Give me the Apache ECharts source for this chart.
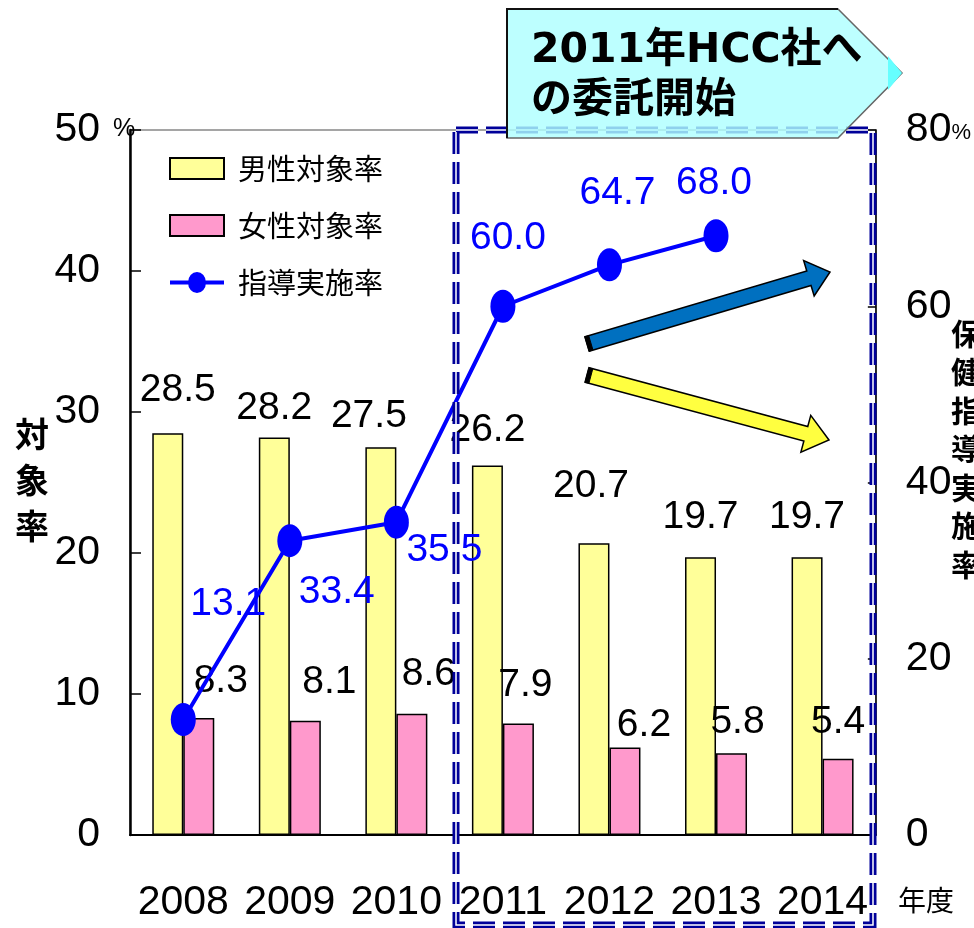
<!DOCTYPE html>
<html>
<head>
<meta charset="utf-8">
<script src="https://cdn.jsdelivr.net/npm/echarts/dist/echarts.min.js"></script>
<style>
html,body{margin:0;padding:0;background:#fff;}
#chart{width:974px;height:928px;}
</style>
</head>
<body>
<div id="chart"></div>
<script>
// ---- data ----
var years = ['2008', '2009', '2010', '2011', '2012', '2013', '2014'];
var maleRate = [28.5, 28.2, 27.5, 26.2, 20.7, 19.7, 19.7];
var femaleRate = [8.3, 8.1, 8.6, 7.9, 6.2, 5.8, 5.4];
var guidanceRate = [13.1, 33.4, 35.5, 60.0, 64.7, 68.0, null];
var leftTicks = [0, 10, 20, 30, 40, 50];
var rightTicks = [0, 20, 40, 60, 80];

// ---- label placement (style only) ----
var maleLabelOffsets = [[10, -22], [0, -8], [-12, -10], [0, -14], [-3, -36], [0, -19], [0, -19]];
var femaleLabelOffsets = [[22, -16], [24, -18], [17, -18], [7, -17], [19, -1], [6, -10], [0, -16]];
var lineLabelOffsets = [[45, -115], [47, 52], [48, 28], [5, -68], [8, -72], [-2, -53], [0, 0]];

var NUM_FONT = '"Liberation Sans Narrow","Liberation Sans",Arial,sans-serif';
var CJK_FONT = '"Noto Sans CJK JP","Noto Sans CJK SC",sans-serif';

function barData(vals, offs) {
  return vals.map(function (v, i) {
    return { value: v, label: { offset: offs[i] } };
  });
}
function lineData(vals, offs) {
  return vals.map(function (v, i) {
    return v == null ? '-' : { value: v, label: { offset: offs[i] } };
  });
}

function arrowPoints(tail, tip, shaft, headW, headL) {
  var dx = tip[0] - tail[0], dy = tip[1] - tail[1];
  var L = Math.sqrt(dx * dx + dy * dy);
  var ux = dx / L, uy = dy / L, nx = -uy, ny = ux;
  var bx = tip[0] - ux * headL, by = tip[1] - uy * headL;
  function p(x, y, k) { return [x + nx * k, y + ny * k]; }
  return {
    body: [p(tail[0], tail[1], shaft / 2), p(bx, by, shaft / 2), p(bx, by, headW / 2), tip,
           p(bx, by, -headW / 2), p(bx, by, -shaft / 2), p(tail[0], tail[1], -shaft / 2)],
    cap: [p(tail[0], tail[1], shaft / 2), p(tail[0] + ux * 4, tail[1] + uy * 4, shaft / 2),
          p(tail[0] + ux * 4, tail[1] + uy * 4, -shaft / 2), p(tail[0], tail[1], -shaft / 2)]
  };
}
var blueArrow = arrowPoints([587, 344], [830, 272], 15, 37, 22);
var yellowArrow = arrowPoints([587, 375], [829, 440], 15, 38, 24);

var chart = echarts.init(document.getElementById('chart'), null, { renderer: 'canvas' });

var lineIcon = 'path://M0,8.5H54V12.5H0Z M18,10.5A9,10.5 0 1,1 36,10.5A9,10.5 0 1,1 18,10.5Z';

var option = {
  backgroundColor: '#ffffff',
  animation: false,
  grid: { left: 130, right: 96, top: 130, bottom: 93, show: true, borderColor: '#888', borderWidth: 1.5, backgroundColor: 'transparent' },
  legend: {
    orient: 'vertical', left: 169, top: 154, padding: 0, itemGap: 28,
    itemWidth: 54, itemHeight: 21,
    textStyle: { fontFamily: CJK_FONT, fontSize: 29, color: '#000', padding: [0, 0, 0, 9] },
    data: [
      { name: '男性対象率', icon: 'rect' },
      { name: '女性対象率', icon: 'rect' },
      { name: '指導実施率', icon: lineIcon }
    ]
  },
  xAxis: {
    type: 'category', data: years,
    axisLine: { lineStyle: { color: '#000', width: 2 } },
    axisTick: { inside: true, length: 12, lineStyle: { color: '#000', width: 1.5 } },
    axisLabel: { interval: 0, fontFamily: NUM_FONT, fontSize: 41, color: '#000', margin: 47, lineHeight: 42 }
  },
  yAxis: [
    {
      type: 'value', min: leftTicks[0], max: leftTicks[leftTicks.length - 1], interval: 10,
      axisLine: { show: true, lineStyle: { color: '#000', width: 2.5 } },
      axisTick: { show: true, inside: true, length: 11, lineStyle: { color: '#000', width: 1.5 } },
      splitLine: { show: false },
      axisLabel: { fontFamily: NUM_FONT, fontSize: 41, color: '#000', margin: 30, align: 'right', lineHeight: 42 }
    },
    {
      type: 'value', position: 'right', min: rightTicks[0], max: rightTicks[rightTicks.length - 1], interval: 20,
      axisLine: { show: true, lineStyle: { color: '#000', width: 1.5 } },
      axisTick: { show: true, inside: true, length: 8, lineStyle: { color: '#000', width: 1.5 } },
      splitLine: { show: false },
      axisLabel: {
        fontFamily: NUM_FONT, fontSize: 41, color: '#000', margin: 30, align: 'left', lineHeight: 42,
        formatter: function (v) { return v === 80 ? '80{p|%}' : String(v); },
        rich: { p: { fontFamily: NUM_FONT, fontSize: 22, color: '#000', padding: [6, 0, 0, 0] } }
      }
    }
  ],
  series: [
    {
      name: '男性対象率', type: 'bar', barWidth: 31, barGap: '0%',
      itemStyle: { color: '#ffff99', borderColor: '#000', borderWidth: 1.5 },
      label: { show: true, position: 'top', distance: 0, fontFamily: NUM_FONT, fontSize: 39, lineHeight: 42, color: '#000' },
      data: barData(maleRate, maleLabelOffsets)
    },
    {
      name: '女性対象率', type: 'bar', barWidth: 31, barGap: '0%',
      itemStyle: { color: '#ff99cc', borderColor: '#000', borderWidth: 1.5 },
      label: { show: true, position: 'top', distance: 0, fontFamily: NUM_FONT, fontSize: 39, lineHeight: 42, color: '#000' },
      data: barData(femaleRate, femaleLabelOffsets)
    },
    {
      name: '指導実施率', type: 'line', yAxisIndex: 1, z: 5,
      color: '#0000ff',
      lineStyle: { color: '#0000ff', width: 4 },
      itemStyle: { color: '#0000ff' },
      symbol: 'circle', symbolSize: [25, 33],
      label: {
        show: true, position: 'inside', fontFamily: NUM_FONT, fontSize: 39, lineHeight: 42, color: '#0000ff',
        formatter: function (p) { return p.value.toFixed(1); }
      },
      data: lineData(guidanceRate, lineLabelOffsets)
    }
  ],
  graphic: [
    // left % mark
    { type: 'text', left: 113, top: 117, z: 10, style: { text: '%', fontFamily: NUM_FONT, fontSize: 25, fill: '#000' } },
    // left axis title
    { type: 'text', left: 15, top: 411, z: 10, style: { text: '対\n象\n率', fontFamily: CJK_FONT, fontWeight: 'bold', fontSize: 34, lineHeight: 46, fill: '#000' } },
    // right axis title (cut at the edge)
    { type: 'text', left: 951, top: 314, z: 10, style: { text: '保\n健\n指\n導\n実\n施\n率', fontFamily: CJK_FONT, fontWeight: 'bold', fontSize: 30, lineHeight: 38.5, fill: '#000' } },
    // x axis unit
    { type: 'text', left: 898, top: 886, z: 10, style: { text: '年度', fontFamily: CJK_FONT, fontSize: 28, fill: '#000' } },
    // arrows
    { type: 'polygon', z: 20, shape: { points: blueArrow.body }, style: { fill: '#0070c0', stroke: '#000', lineWidth: 1.5 } },
    { type: 'polygon', z: 21, shape: { points: blueArrow.cap }, style: { fill: '#000', stroke: '#000', lineWidth: 1 } },
    { type: 'polygon', z: 20, shape: { points: yellowArrow.body }, style: { fill: '#ffff40', stroke: '#000', lineWidth: 1.5 } },
    { type: 'polygon', z: 21, shape: { points: yellowArrow.cap }, style: { fill: '#000', stroke: '#000', lineWidth: 1 } },
    // dashed highlight rectangle (double line)
    { type: 'rect', z: 30, shape: { x: 456, y: 130, width: 417, height: 795 }, style: { fill: null, stroke: '#000099', lineWidth: 7, lineDash: [22, 8] } },
    { type: 'rect', z: 31, shape: { x: 456, y: 130, width: 417, height: 795 }, style: { fill: null, stroke: '#ffffff', lineWidth: 1.5, lineDash: [22, 8] } },
    // callout
    { type: 'polygon', z: 40, shape: { points: [[507, 9], [838, 9], [902, 73], [838, 138], [507, 138]] },
      style: { fill: 'rgba(175,255,255,0.82)', stroke: '#666', lineWidth: 1.5 } },
    { type: 'polygon', z: 41, shape: { points: [[888, 56], [902, 73], [888, 90]] }, style: { fill: '#66ffff', stroke: null } },
    { type: 'polyline', z: 41, shape: { points: [[507, 138], [507, 9], [838, 9]] }, style: { stroke: '#111', lineWidth: 2, fill: null } },
    { type: 'text', left: 531, top: 26, z: 42, style: { text: '2011年HCC社へ\nの委託開始', fontFamily: '"DejaVu Sans","Noto Sans CJK JP",sans-serif', fontWeight: 'bold', fontSize: 41, lineHeight: 50, fill: '#000' } }
  ]
};
chart.setOption(option);
</script>
</body>
</html>
